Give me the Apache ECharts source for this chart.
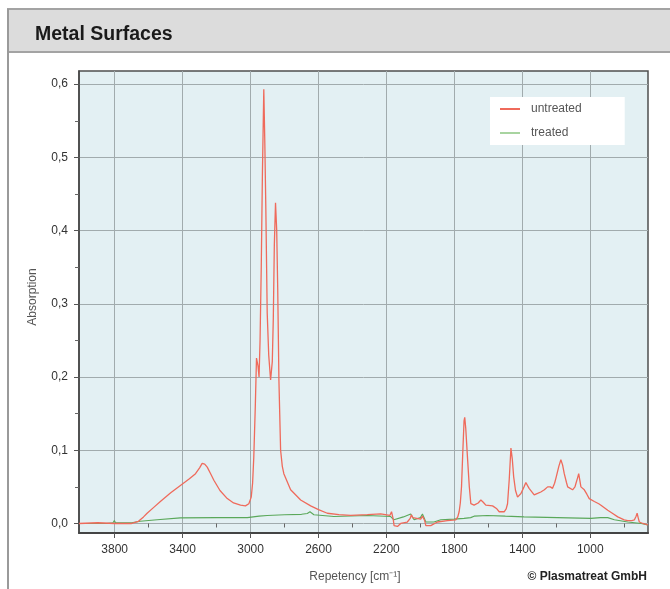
<!DOCTYPE html>
<html>
<head>
<meta charset="utf-8">
<script src="https://cdn.jsdelivr.net/npm/echarts@6/dist/echarts.min.js"></script>
<style>
html,body{margin:0;padding:0;background:#fff;}
#chart{width:670px;height:589px;}
</style>
</head>
<body>
<div id="chart"></div>
<script>
// Wavenumbers (cm^-1) and absorption values
const untreatedX = [4010,3900,3800,3700,3660,3630,3609,3570,3531,3470,3413,3360,3324,3300,3285,3270,3255,3235,3216,3180,3137,3100,3059,3030,3010,2996,2988,2981,2972,2965,2956,2950,2944,2937,2930,2922,2916,2910,2902,2893,2882,2872,2866,2860,2853,2846,2840,2833,2823,2813,2804,2764,2705,2646,2600,2548,2480,2411,2312,2234,2180,2170,2160,2155,2135,2116,2077,2060,2053,2045,2037,1998,1988,1982,1975,1968,1939,1900,1841,1792,1780,1772,1765,1758,1750,1743,1739,1733,1723,1712,1703,1684,1660,1644,1630,1615,1575,1550,1536,1507,1495,1487,1477,1467,1459,1451,1440,1428,1408,1390,1379,1370,1360,1330,1310,1291,1270,1251,1235,1222,1210,1202,1185,1173,1163,1153,1140,1133,1104,1090,1084,1075,1068,1062,1055,1035,1020,1006,976,950,937,897,870,838,800,779,755,740,730,724,718,711,690,661];
const untreatedY = [0.000,0.001,0.000,0.000,0.003,0.009,0.014,0.022,0.030,0.042,0.052,0.061,0.068,0.076,0.082,0.081,0.077,0.068,0.059,0.045,0.034,0.028,0.025,0.024,0.027,0.036,0.055,0.090,0.160,0.226,0.215,0.200,0.250,0.350,0.480,0.593,0.520,0.430,0.288,0.230,0.196,0.221,0.280,0.380,0.438,0.400,0.320,0.196,0.100,0.078,0.068,0.046,0.032,0.024,0.019,0.014,0.012,0.011,0.012,0.013,0.011,0.016,0.006,-0.003,-0.004,0.000,0.002,0.007,0.012,0.008,0.006,0.006,0.010,0.012,0.004,-0.003,-0.003,0.002,0.004,0.005,0.009,0.016,0.028,0.050,0.100,0.140,0.145,0.130,0.091,0.050,0.027,0.025,0.028,0.032,0.029,0.025,0.024,0.020,0.016,0.016,0.020,0.027,0.060,0.103,0.088,0.064,0.045,0.036,0.041,0.050,0.056,0.052,0.048,0.039,0.041,0.043,0.046,0.050,0.050,0.048,0.055,0.062,0.078,0.087,0.080,0.068,0.056,0.050,0.046,0.050,0.055,0.062,0.068,0.060,0.050,0.046,0.040,0.034,0.030,0.027,0.025,0.018,0.014,0.009,0.005,0.004,0.004,0.005,0.010,0.014,0.008,0.002,0.000,-0.002];

const treatedX = [4010,3850,3810,3802,3795,3700,3650,3550,3413,3200,3019,2950,2902,2800,2700,2666,2650,2627,2509,2312,2175,2156,2100,2057,2045,2037,2000,1988,1975,1968,1920,1880,1802,1743,1704,1684,1606,1500,1390,1193,996,940,897,858,779,700,661];
const treatedY = [0.000,0.000,0.001,0.004,0.001,0.001,0.003,0.005,0.0077,0.008,0.008,0.010,0.011,0.012,0.0125,0.0137,0.016,0.012,0.0095,0.011,0.0095,0.005,0.009,0.013,0.008,0.005,0.008,0.013,0.006,0.002,0.002,0.005,0.006,0.007,0.008,0.010,0.011,0.010,0.009,0.008,0.007,0.008,0.008,0.005,0.002,0.000,-0.002];

const xTickLabels = [3800,3400,3000,2600,2200,1800,1400,1000];
const xMinorTicks = [3600,3200,2800,2400,2000,1600,1200,800];
const yTickLabels = [0,0.1,0.2,0.3,0.4,0.5,0.6];
const yMinorTicks = [0.05,0.15,0.25,0.35,0.45,0.55];

const pair = (xs, ys) => xs.map((x, i) => [x, ys[i]]);
const font = '"Liberation Sans", Arial, sans-serif';

const chart = echarts.init(document.getElementById('chart'));
chart.setOption({
  animation: false,
  backgroundColor: '#ffffff',
  graphic: [
    {type: 'rect', shape: {x: 8, y: 9, width: 670, height: 43}, style: {fill: '#dcdcdc', stroke: '#a3a3a3', lineWidth: 2}, z: 0},
    {type: 'line', shape: {x1: 8, y1: 9, x2: 8, y2: 589}, style: {stroke: '#9a9a9a', lineWidth: 2}},
    {type: 'text', x: 35, y: 35, style: {text: 'Metal Surfaces', font: 'bold 19.5px ' + font, fill: '#1a1a1a', textVerticalAlign: 'middle'}},
    {type: 'text', x: 355, y: 577, style: {text: 'Repetency [cm⁻¹]', font: '12px ' + font, fill: '#555', textAlign: 'center', textVerticalAlign: 'middle'}},
    {type: 'text', x: 33, y: 297, rotation: Math.PI / 2, style: {text: 'Absorption', font: '12px ' + font, fill: '#555', textAlign: 'center', textVerticalAlign: 'middle'}},
    {type: 'text', x: 647, y: 577, style: {text: '© Plasmatreat GmbH', font: 'bold 12px ' + font, fill: '#222', textAlign: 'right', textVerticalAlign: 'middle'}}
  ],
  legend: {
    data: ['untreated', 'treated'],
    orient: 'vertical',
    left: 490, top: 97,
    backgroundColor: '#ffffff',
    padding: [6, 43, 6, 10],
    itemGap: 12,
    itemWidth: 20, itemHeight: 2,
    icon: 'rect',
    textStyle: {color: '#555', fontSize: 12, fontFamily: font, padding: [0, 0, 0, 6]}
  },
  grid: {left: 79, right: 22, top: 71, bottom: 56, show: true, backgroundColor: '#e3f0f3', borderColor: '#4f4f4f', borderWidth: 1.5, containLabel: false, outerBoundsMode: 'none'},
  xAxis: [
    {
      type: 'value', inverse: true, min: 660, max: 4010,
      axisLine: {show: true, onZero: false, lineStyle: {color: '#444', width: 2}},
      axisTick: {show: true, inside: false, length: 5, customValues: xTickLabels, lineStyle: {color: '#555'}},
      axisLabel: {customValues: xTickLabels, margin: 11, color: '#333', fontSize: 12, fontFamily: font, formatter: v => String(v)},
      splitLine: {show: true, lineStyle: {color: '#a1abad', width: 1}}
    },
    {
      type: 'value', inverse: true, min: 660, max: 4010, position: 'bottom',
      axisLine: {show: false},
      axisTick: {show: true, length: 4, customValues: xMinorTicks, lineStyle: {color: '#666'}},
      axisLabel: {show: false},
      splitLine: {show: false}
    }
  ],
  yAxis: [
    {
      type: 'value', min: -0.013, max: 0.618,
      axisLine: {show: true, onZero: false, lineStyle: {color: '#444', width: 1.5}},
      axisTick: {show: true, length: 5, customValues: yTickLabels, lineStyle: {color: '#555'}},
      axisLabel: {customValues: yTickLabels, margin: 11, color: '#333', fontSize: 12, fontFamily: font,
        formatter: v => v.toFixed(1).replace('.', ',')},
      splitLine: {show: true, lineStyle: {color: '#a1abad', width: 1}}
    },
    {
      type: 'value', min: -0.013, max: 0.618, position: 'left',
      axisLine: {show: false},
      axisTick: {show: true, length: 4, customValues: yMinorTicks, lineStyle: {color: '#666'}},
      axisLabel: {show: false},
      splitLine: {show: false}
    }
  ],
  series: [
    {name: 'untreated', type: 'line', xAxisIndex: 0, yAxisIndex: 0, data: pair(untreatedX, untreatedY), showSymbol: false, symbol: 'none', lineStyle: {color: '#ef6a5b', width: 1.3}, itemStyle: {color: '#ef6a5b'}, z: 3},
    {name: 'treated', type: 'line', xAxisIndex: 0, yAxisIndex: 0, data: pair(treatedX, treatedY), showSymbol: false, symbol: 'none', lineStyle: {color: '#5aa85a', width: 1.1}, itemStyle: {color: '#a8d4a0'}, z: 2}
  ]
});
</script>
</body>
</html>
